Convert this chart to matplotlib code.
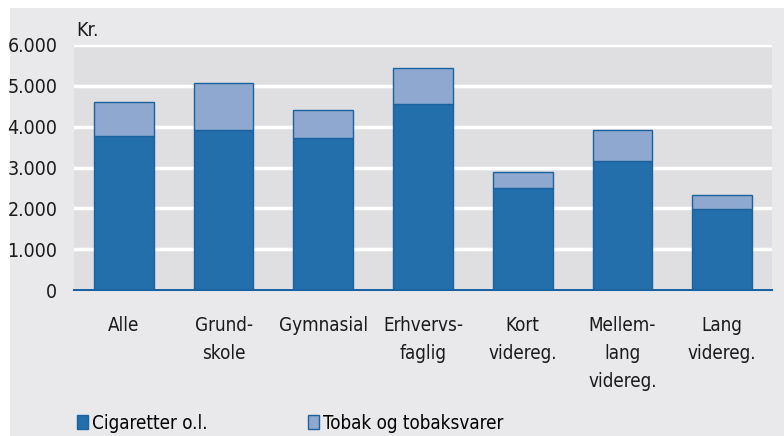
import matplotlib
matplotlib.use("Agg")
import matplotlib.pyplot as plt

categories = ["Alle", "Grund-\nskole", "Gymnasial", "Erhvervs-\nfaglig", "Kort\nvidereg.", "Mellem-\nlang\nvidereg.", "Lang\nvidereg."]
cigaretter = [3780, 3920, 3730, 4550, 2490, 3160, 1985]
total = [4600, 5070, 4400, 5430, 2880, 3920, 2335]
tobak = [t - c for t, c in zip(total, cigaretter)]
yticks = [0, 1000, 2000, 3000, 4000, 5000, 6000]
ytick_labels = ["0", "1.000", "2.000", "3.000", "4.000", "5.000", "6.000"]

plt.rcParams['font.family'] = ['DejaVu Sans']
plt.rcParams['font.stretch'] = 'condensed'

W, H = 784, 436
fig = plt.figure(figsize=(W / 100, H / 100), dpi=100)
fig.patch.set_facecolor("white")
bg = fig.add_axes([10 / W, 0, 1 - 10 / W, (H - 8) / H], zorder=-10)
bg.set_facecolor("#e9e9eb")
bg.set_xticks([]); bg.set_yticks([])
for s in bg.spines.values():
    s.set_visible(False)

ax = fig.add_axes([74 / W, (H - 290) / H, (772 - 74) / W, (290 - 45) / H], zorder=1)
ax.set_facecolor("#dfdfe1")
dark = "#236fab"
light = "#8ea8cf"
edge = "#1b62a0"
x = list(range(len(categories)))
ax.bar(x, cigaretter, width=0.6, color=dark, edgecolor=edge, linewidth=1, zorder=3, label="Cigaretter o.l.")
ax.bar(x, tobak, bottom=cigaretter, width=0.6, color=light, edgecolor=edge, linewidth=1, zorder=3,
       label="Tobak og tobaksvarer")
ax.set_xlim(-0.5, len(categories) - 0.5)
ax.set_ylim(0, 6000)
ax.set_yticks(yticks)
ax.set_yticklabels(ytick_labels, fontsize=14, color="#1a1a1a")
ax.set_xticks(x)
ax.set_xticklabels(categories, fontsize=13.5, color="#1a1a1a", linespacing=1.6, va="top")
ax.tick_params(axis="both", length=0)
ax.tick_params(axis="y", pad=12)
ax.tick_params(axis="x", pad=19)
for s in ["top", "right", "left"]:
    ax.spines[s].set_visible(False)
ax.spines["bottom"].set_color(edge)
ax.spines["bottom"].set_linewidth(1.5)
ax.spines["bottom"].set_zorder(4)
ax.grid(axis="y", color="white", linewidth=2.5, zorder=1)
ax.set_axisbelow(True)

fig.text(76 / W, 1 - 30 / H, "Kr.", fontsize=14, color="#1a1a1a", va="center", ha="left")

handles, labels = ax.get_legend_handles_labels()
fig.legend(handles[:1], labels[:1], loc="center left", bbox_to_anchor=(60 / W, 1 - 423 / H),
           frameon=False, fontsize=13.5, handlelength=0.6, handleheight=0.7, handletextpad=0.2)
fig.legend(handles[1:], labels[1:], loc="center left", bbox_to_anchor=(291 / W, 1 - 423 / H),
           frameon=False, fontsize=13.5, handlelength=0.6, handleheight=0.7, handletextpad=0.2)

fig.savefig("out.png", dpi=100, facecolor=fig.get_facecolor())
